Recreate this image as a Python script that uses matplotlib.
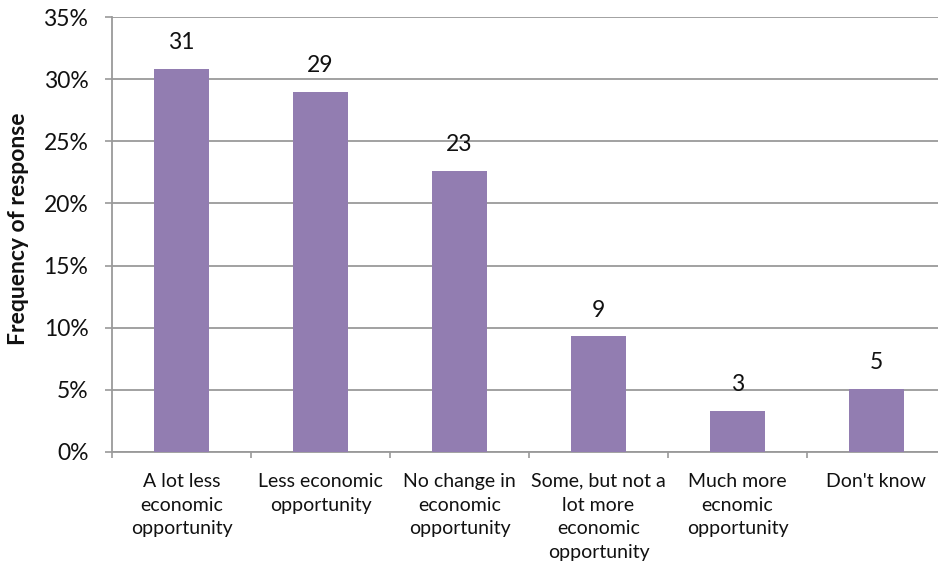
import matplotlib
matplotlib.use("Agg")
import matplotlib.pyplot as plt
from matplotlib.ticker import FixedLocator, FuncFormatter

plt.rcParams['font.family'] = ['Lato', 'DejaVu Sans']

categories = [
    "A lot less\neconomic\nopportunity",
    "Less economic\nopportunity",
    "No change in\neconomic\nopportunity",
    "Some, but not a\nlot more\neconomic\nopportunity",
    "Much more\necnomic\nopportunity",
    "Don't know",
]
percent = [30.8, 29.0, 22.6, 9.3, 3.3, 5.1]
y_ticks = [0, 5, 10, 15, 20, 25, 30, 35]

bar_color = '#927db1'
grid_color = '#9a9a9a'

fig = plt.figure(figsize=(9.38, 5.66), dpi=100)
ax = fig.add_axes([112 / 938, 114 / 566, 834 / 938, 435 / 566])

x = list(range(len(categories)))
ax.bar(x, percent, width=0.4, color=bar_color, zorder=3)

for xi, v in zip(x, percent):
    ax.annotate(f"{round(v):d}", (xi, v), xytext=(0, 19), textcoords='offset points',
                ha='center', va='center', fontsize=16.5, color='#111111', zorder=4)

ax.set_xlim(-0.5, len(categories) - 0.5)
ax.set_ylim(0, 35)

ax.yaxis.set_major_locator(FixedLocator(y_ticks))
ax.yaxis.set_major_formatter(FuncFormatter(lambda v, p: f"{v:.0f}%"))
ax.grid(axis='y', color=grid_color, linewidth=1.3, zorder=0)

ax.set_xticks(x)
ax.set_xticklabels(categories, fontsize=14, linespacing=1.48, va='top')
ax.set_xticks([i - 0.5 for i in range(len(categories) + 1)], minor=True)
ax.tick_params(axis='x', which='major', length=0, pad=15)
ax.tick_params(axis='x', which='minor', length=4, width=1.2, color=grid_color, direction='out')
ax.tick_params(axis='y', length=5, width=1.2, color=grid_color, labelsize=16.5, pad=12,
               labelcolor='#111111')
ax.tick_params(axis='x', labelcolor='#111111')

for side in ('top', 'right'):
    ax.spines[side].set_visible(False)
for side in ('left', 'bottom'):
    ax.spines[side].set_color(grid_color)
    ax.spines[side].set_linewidth(1.3)

fig.text(19 / 938, 1 - 229 / 566, "Frequency of response", rotation=90,
         ha='center', va='center', fontsize=16.5, fontweight='bold', color='#111111')

fig.savefig("out.png", dpi=100)
